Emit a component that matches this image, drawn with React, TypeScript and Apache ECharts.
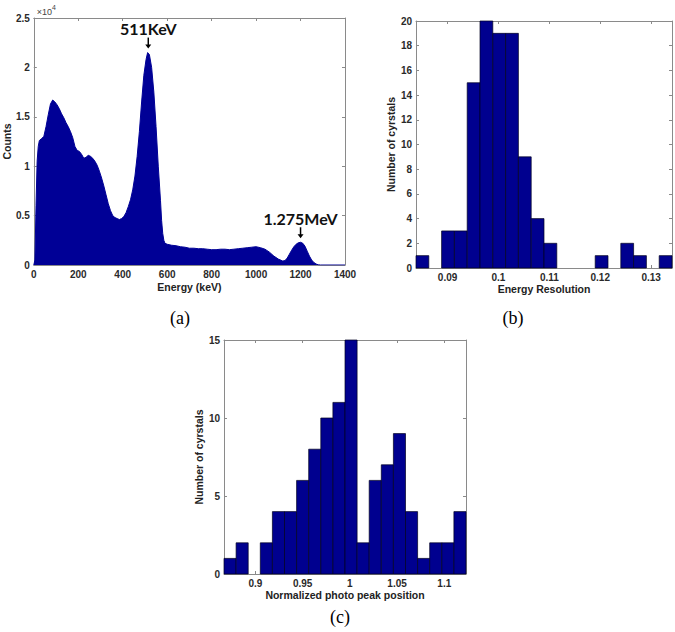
import React, { useEffect, useRef } from "react";
import * as echarts from "echarts";

// ---------- Panel (a): energy spectrum ----------
const spectrumEnergy = [0,5,10,15,20,25,35,45,55,65,75,85,95,105,115,125,135,145,155,165,175,185,195,205,215,225,235,245,255,265,275,285,295,305,315,325,335,345,355,365,375,385,395,405,415,425,435,445,455,465,475,485,495,505,512,520,530,540,550,560,570,575,580,585,590,600,620,640,660,680,700,720,740,760,780,800,820,840,860,880,900,920,940,960,980,1000,1020,1040,1060,1080,1100,1120,1130,1140,1150,1160,1170,1180,1190,1200,1210,1220,1230,1240,1250,1260,1270,1280,1290,1400];
const spectrumCounts = [0,500,6000,10500,12000,12600,12800,13000,14000,15200,16300,16700,16500,16200,15800,15300,14900,14400,14000,13500,12900,12000,11600,11500,11200,10800,10900,11100,11000,10800,10500,10100,9500,8800,8000,7100,6200,5500,5000,4800,4700,4600,4700,4900,5300,5900,6600,7600,9000,11000,13500,16500,19200,20800,21500,21300,20000,17500,14000,10000,6500,4500,3200,2500,2200,2100,2000,1950,1850,1800,1700,1700,1650,1650,1600,1550,1550,1600,1600,1550,1600,1650,1700,1750,1800,1850,1750,1600,1300,900,600,400,450,700,1100,1500,1850,2100,2250,2300,2200,1900,1400,900,500,250,100,20,0,0];
const energyTicks = [0, 200, 400, 600, 800, 1000, 1200, 1400];
const countTicks = [0, 5000, 10000, 15000, 20000, 25000];
const annotations = [
  { label: "511KeV", energy: 515, counts: 21500 },
  { label: "1.275MeV", energy: 1200, counts: 2300 },
];

// ---------- Panel (b): energy resolution histogram ----------
const resolutionRange = [0.0838, 0.1341];
const resolutionCounts = [1,0,3,3,15,20,19,19,9,4,2,0,0,0,1,0,2,1,0,1];
const resolutionTicks = [0.09, 0.1, 0.11, 0.12, 0.13];
const resolutionTickLabels = ["0.09", "0.1", "0.11", "0.12", "0.13"];
const resolutionYTicks = [0,2,4,6,8,10,12,14,16,18,20];

// ---------- Panel (c): normalized photo peak position histogram ----------
const peakRange = [0.8667, 1.123];
const peakCounts = [1,2,0,2,4,4,6,8,10,11,15,2,6,7,9,4,1,2,2,4];
const peakTicks = [0.9, 0.95, 1.0, 1.05, 1.1];
const peakTickLabels = ["0.9", "0.95", "1", "1.05", "1.1"];
const peakYTicks = [0, 5, 10, 15];

const panelLabels = [
  { text: "(a)", x: 180, y: 318 },
  { text: "(b)", x: 513, y: 318 },
  { text: "(c)", x: 340, y: 617 },
];

const BLUE = "#00008f";
const AREA_BLUE = "#000096";
const FRAME = "#8a8a8a";
const SANS = "'Liberation Sans', Arial, sans-serif";

function bins(range: number[], counts: number[]) {
  const w = (range[1] - range[0]) / counts.length;
  return counts.map((c, i) => [range[0] + i * w, range[0] + (i + 1) * w, c]);
}

function frameAxis(type: "x" | "y", grid: number, pos: string, min: number, max: number, ticks: number[], labels: boolean, fmt?: (v: number) => string, name?: string, nameGap?: number) {
  const ax: any = {
    type: "value",
    gridIndex: grid,
    position: pos,
    min,
    max,
    axisLine: { show: true, onZero: false, lineStyle: { color: FRAME, width: 1 } },
    axisTick: { show: true, inside: true, length: 3, customValues: ticks, lineStyle: { color: FRAME } },
    splitLine: { show: false },
    axisLabel: {
      show: labels,
      customValues: ticks,
      formatter: fmt,
      color: "#2a2a2a",
      fontFamily: SANS,
      fontWeight: "bold",
      fontSize: 10,
      margin: 4,
    },
  };
  if (name) {
    ax.name = name;
    ax.nameLocation = "middle";
    ax.nameGap = nameGap;
    ax.nameTextStyle = { color: "#222", fontFamily: SANS, fontWeight: "bold", fontSize: 10.5 };
  }
  return ax;
}

function histSeries(data: number[][], xi: number, yi: number) {
  return {
    type: "custom",
    xAxisIndex: xi,
    yAxisIndex: yi,
    data,
    renderItem: (params: any, api: any) => {
      const x0 = api.value(0), x1 = api.value(1), c = api.value(2);
      if (!c) return null;
      const p0 = api.coord([x0, 0]);
      const p1 = api.coord([x1, c]);
      return {
        type: "rect",
        shape: { x: p0[0], y: p1[1], width: p1[0] - p0[0], height: p0[1] - p1[1] },
        style: { fill: BLUE, stroke: "#000020", lineWidth: 0.7 },
      };
    },
  };
}

export default function App() {
  const ref = useRef<HTMLDivElement>(null);
  useEffect(() => {
    if (!ref.current) return;
    const chart = echarts.init(ref.current, undefined, { renderer: "svg" });
    const fmtCounts = (v: number) => String(v / 10000);
    const resLbl = (v: number) => {
      const i = resolutionTicks.findIndex((t) => Math.abs(t - v) < 1e-9);
      return i >= 0 ? resolutionTickLabels[i] : "";
    };
    const peakLbl = (v: number) => {
      const i = peakTicks.findIndex((t) => Math.abs(t - v) < 1e-9);
      return i >= 0 ? peakTickLabels[i] : "";
    };
    const option: any = {
      animation: false,
      grid: [
        { left: 33, top: 18, width: 312, height: 247 },
        { left: 416, top: 21, width: 256, height: 247 },
        { left: 224, top: 340, width: 242, height: 234 },
      ],
      xAxis: [
        frameAxis("x", 0, "bottom", 0, 1400, energyTicks, true, (v) => String(v), "Energy (keV)", 16),
        frameAxis("x", 0, "top", 0, 1400, energyTicks, false),
        frameAxis("x", 1, "bottom", resolutionRange[0], resolutionRange[1], resolutionTicks, true, resLbl, "Energy Resolution", 15),
        frameAxis("x", 1, "top", resolutionRange[0], resolutionRange[1], resolutionTicks, false),
        frameAxis("x", 2, "bottom", peakRange[0], peakRange[1], peakTicks, true, peakLbl, "Normalized photo peak position", 15),
        frameAxis("x", 2, "top", peakRange[0], peakRange[1], peakTicks, false),
      ],
      yAxis: [
        frameAxis("y", 0, "left", 0, 25000, countTicks, true, fmtCounts, "Counts", 20),
        frameAxis("y", 0, "right", 0, 25000, countTicks, false),
        frameAxis("y", 1, "left", 0, 20, resolutionYTicks, true, (v) => String(v), "Number of cyrstals", 18),
        frameAxis("y", 1, "right", 0, 20, resolutionYTicks, false),
        frameAxis("y", 2, "left", 0, 15, peakYTicks, true, (v) => String(v), "Number of cyrstals", 16),
        frameAxis("y", 2, "right", 0, 15, peakYTicks, false),
      ],
      series: [
        {
          type: "line",
          xAxisIndex: 0,
          yAxisIndex: 0,
          data: spectrumEnergy.map((e, i) => [e, spectrumCounts[i]]),
          showSymbol: false,
          smooth: false,
          lineStyle: { color: AREA_BLUE, width: 1 },
          areaStyle: { color: AREA_BLUE, opacity: 1 },
          itemStyle: { color: AREA_BLUE },
        },
        histSeries(bins(resolutionRange, resolutionCounts), 2, 2),
        histSeries(bins(peakRange, peakCounts), 4, 4),
      ],
    };
    chart.setOption(option);

    const graphics: any[] = [];
    annotations.forEach((a) => {
      const p = chart.convertToPixel({ xAxisIndex: 0, yAxisIndex: 0 }, [a.energy, a.counts]) as number[];
      const tip = p[1] - 4;
      graphics.push({
        type: "line",
        shape: { x1: p[0], y1: tip - 11, x2: p[0], y2: tip - 3 },
        style: { stroke: "#000", lineWidth: 1.5 },
      });
      graphics.push({
        type: "polygon",
        shape: { points: [[p[0] - 3, tip - 4], [p[0] + 3, tip - 4], [p[0], tip]] },
        style: { fill: "#000" },
      });
      graphics.push({
        type: "text",
        x: p[0],
        y: tip - 20,
        style: {
          text: a.label,
          fill: "#111",
          font: "bold 16px Lato, 'Open Sans', sans-serif",
          align: "center",
          verticalAlign: "middle",
        },
      });
    });
    const corner = chart.convertToPixel({ xAxisIndex: 0, yAxisIndex: 0 }, [0, 25000]) as number[];
    graphics.push({
      type: "text",
      x: corner[0] + 3,
      y: corner[1] - 2,
      style: {
        text: "{a|×10}{b|4}",
        verticalAlign: "bottom",
        rich: {
          a: { fontSize: 9, fontFamily: SANS, fill: "#444", verticalAlign: "bottom" },
          b: { fontSize: 7, fontFamily: SANS, fill: "#444", verticalAlign: "top", padding: [0, 0, 5, 0] },
        },
      },
    });
    panelLabels.forEach((l) => {
      graphics.push({
        type: "text",
        x: l.x,
        y: l.y,
        style: {
          text: l.text,
          fill: "#000",
          font: "18px 'Liberation Serif', 'Times New Roman', serif",
          align: "center",
          verticalAlign: "middle",
        },
      });
    });
    chart.setOption({ graphic: graphics });
    return () => chart.dispose();
  }, []);
  return (
    <div
      ref={ref}
      style={{ position: "fixed", left: 0, top: 0, width: 675, height: 632, background: "#fff" }}
    />
  );
}
